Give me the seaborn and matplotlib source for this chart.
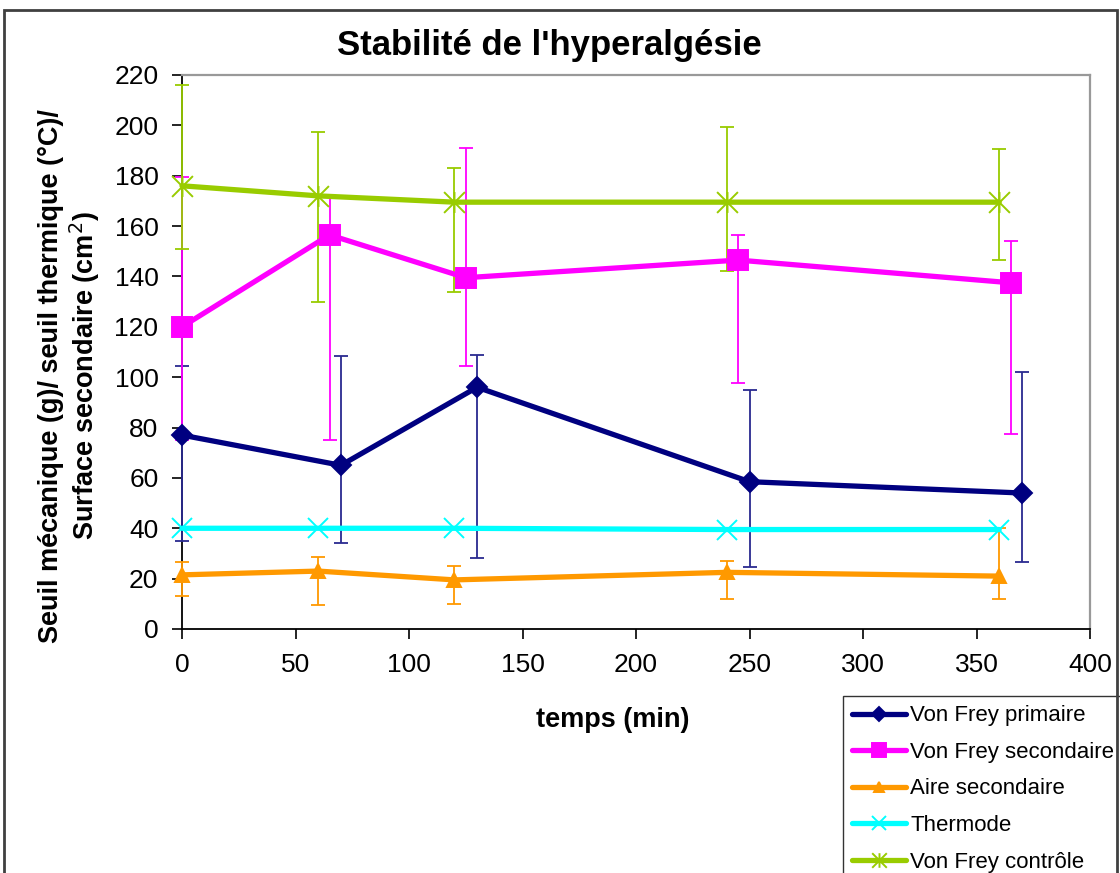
import numpy as np
import pandas as pd
import seaborn as sns
import matplotlib
matplotlib.use("Agg")
import matplotlib.pyplot as plt
from matplotlib.path import Path
from matplotlib.patches import Rectangle

# --- data -------------------------------------------------------------
temps_primaire = [0, 70, 130, 250, 370]
vf_primaire = [77, 65, 96, 58.5, 54]
vf_primaire_bas = [35, 34, 28, 24.5, 26.5]
vf_primaire_haut = [104.5, 108.5, 109, 95, 102]

temps_secondaire = [0, 65, 125, 245, 365]
vf_secondaire = [120, 156.5, 139.5, 146.5, 137.5]
vf_secondaire_bas = [75, 75, 104.5, 97.5, 77.5]
vf_secondaire_haut = [179.5, 172, 191, 156.5, 154]

temps = [0, 60, 120, 240, 360]
aire_secondaire = [21.5, 23, 19.5, 22.5, 21]
aire_secondaire_bas = [13, 9.5, 10, 12, 12]
aire_secondaire_haut = [26.5, 28.5, 25, 27, 40]

thermode = [40, 40, 40, 39.5, 39.5]

vf_controle = [176, 172, 169.5, 169.5, 169.5]
vf_controle_bas = [151, 130, 134, 142, 146.5]
vf_controle_haut = [216, 197.5, 183, 199.5, 190.5]

# --- style ------------------------------------------------------------
sns.set_style("white")
plt.rcParams["font.family"] = ["Liberation Sans", "DejaVu Sans"]
plt.rcParams["text.color"] = "black"
plt.rcParams["axes.labelcolor"] = "black"
plt.rcParams["xtick.color"] = "black"
plt.rcParams["ytick.color"] = "black"

# asterisk marker: an x with a vertical stroke
star_path = Path(
    [(-0.5, -0.5), (0.5, 0.5), (-0.5, 0.5), (0.5, -0.5), (0, -0.5), (0, 0.5)],
    [Path.MOVETO, Path.LINETO] * 3,
)

W, H = 1120, 873
fig = plt.figure(figsize=(W / 100, H / 100), dpi=100)
ax = fig.add_axes([182 / W, 1 - 629 / H, (1090 - 182) / W, (629 - 75) / H])

series = [
    dict(name="Von Frey primaire", x=temps_primaire, y=vf_primaire,
         lo=vf_primaire_bas, hi=vf_primaire_haut, color="#000080",
         ecolor="#2a2a90", marker="D", ms=10.5, mfc="#000080"),
    dict(name="Von Frey secondaire", x=temps_secondaire, y=vf_secondaire,
         lo=vf_secondaire_bas, hi=vf_secondaire_haut, color="#FF00FF",
         ecolor="#FF00FF", marker="s", ms=14, mfc="#FF00FF"),
    dict(name="Aire secondaire", x=temps, y=aire_secondaire,
         lo=aire_secondaire_bas, hi=aire_secondaire_haut, color="#FF9900",
         ecolor="#FF9900", marker="^", ms=9.5, mfc="#FF9900"),
    dict(name="Thermode", x=temps, y=thermode, lo=None, hi=None,
         color="#00FFFF", ecolor="#00FFFF", marker="x", ms=15, mfc="none"),
    dict(name="Von Frey contrôle", x=temps, y=vf_controle,
         lo=vf_controle_bas, hi=vf_controle_haut, color="#99CC00",
         ecolor="#99CC00", marker=star_path, ms=15, mfc="none"),
]

for i, s in enumerate(series):
    y = np.asarray(s["y"], dtype=float)
    if s["lo"] is not None:
        yerr = [y - np.asarray(s["lo"]), np.asarray(s["hi"]) - y]
        ax.errorbar(s["x"], y, yerr=yerr, fmt="none", ecolor=s["ecolor"],
                    elinewidth=1.3, capsize=5, capthick=1.3,
                    zorder=3, clip_on=False)
    df = pd.DataFrame({"temps": s["x"], "valeur": y})
    sns.lineplot(data=df, x="temps", y="valeur", ax=ax, sort=False,
                 color=s["color"], lw=3.8, marker=s["marker"],
                 markersize=s["ms"], markerfacecolor=s["mfc"],
                 markeredgecolor=s["color"], markeredgewidth=1.4,
                 label=s["name"], zorder=5 + i, clip_on=False)

# --- axes -------------------------------------------------------------
ax.set_xlim(0, 400)
ax.set_ylim(0, 220)
ax.set_xticks(np.arange(0, 401, 50))
ax.set_yticks(np.arange(0, 221, 20))
ax.tick_params(axis="both", labelsize=19, direction="out", length=7,
               width=1.2, colors="black", pad=10)
ax.tick_params(left=True, bottom=True)

for side in ("left", "bottom"):
    ax.spines[side].set_color("black")
    ax.spines[side].set_linewidth(1.3)
for side in ("top", "right"):
    ax.spines[side].set_color("#999999")
    ax.spines[side].set_linewidth(1.6)

ax.set_xlabel("temps (min)", fontsize=19.5, fontweight="bold", color="black")
ax.xaxis.set_label_coords((613 - 182) / 908, (629 - 707) / 554)
ax.set_ylabel("Seuil mécanique (g)/ seuil thermique (°C)/\n"
              "Surface secondaire (cm$^2$)",
              fontsize=19.5, fontweight="bold", linespacing=1.15,
              color="black")
ax.yaxis.set_label_coords((102 - 182) / 908, (629 - 376) / 554)

fig.text(549 / W, 1 - 46 / H, "Stabilité de l'hyperalgésie",
         ha="center", va="center", fontsize=25, fontweight="bold",
         color="black")

leg = ax.legend(loc="upper left", bbox_to_anchor=(843 / W, 1 - 696 / H),
                bbox_transform=fig.transFigure, borderaxespad=0,
                fontsize=16, frameon=True, fancybox=False, shadow=False,
                handlelength=2.4, handletextpad=0.2, labelspacing=0.7,
                borderpad=0.42, markerscale=0.7)
leg.get_frame().set_edgecolor("black")
leg.get_frame().set_linewidth(1.0)
for t in leg.get_texts():
    t.set_color("black")

# outer chart border
fig.patches.append(Rectangle((4 / W, -0.05), (1117 - 4) / W, 1.05 - 10 / H,
                             transform=fig.transFigure, fill=False,
                             edgecolor="#404040", linewidth=2))

fig.savefig("out.png", dpi=100)
